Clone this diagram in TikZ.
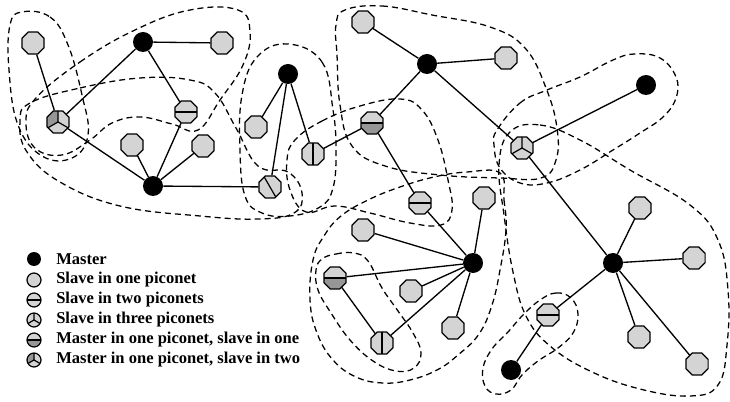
\documentclass[tikz,border=0pt]{standalone}
\usepackage{fontspec}
\setmainfont{Liberation Serif}
\usetikzlibrary{shapes.geometric}
\definecolor{lgray}{RGB}{212,212,212}
\definecolor{dgray}{RGB}{150,150,150}
\tikzset{
  master/.style={circle, fill=black, inner sep=0pt, minimum size=15pt},
  slave/.style={regular polygon, regular polygon sides=8, draw=black, line width=0.9pt, fill=lgray, inner sep=0pt, minimum size=18pt},
  splith/.style={slave, path picture={\draw[line width=0.9pt] (path picture bounding box.west) -- (path picture bounding box.east);}},
  splitv/.style={slave, path picture={\draw[line width=0.9pt] (path picture bounding box.north) -- (path picture bounding box.south);}},
  splitd/.style={slave, path picture={\draw[line width=0.9pt] (path picture bounding box.120) -- (path picture bounding box.300);}},
  mshalf/.style={slave, path picture={\fill[dgray] (path picture bounding box.west) rectangle (path picture bounding box.south east);
      \draw[line width=0.9pt] (path picture bounding box.west) -- (path picture bounding box.east);}},
  merc/.style={slave, path picture={\draw[line width=0.9pt] (path picture bounding box.center) -- (path picture bounding box.north)
      (path picture bounding box.center) -- (path picture bounding box.210) (path picture bounding box.center) -- (path picture bounding box.330);}},
  mercm/.style={slave, path picture={\fill[dgray] (path picture bounding box.center) -- (path picture bounding box.north) -- (path picture bounding box.north west) -- (path picture bounding box.210) -- cycle;
      \draw[line width=0.9pt] (path picture bounding box.center) -- (path picture bounding box.north)
      (path picture bounding box.center) -- (path picture bounding box.210) (path picture bounding box.center) -- (path picture bounding box.330);}},
  lgd/.style={circle, minimum size=10.5pt},
  link/.style={line width=1pt},
  piconet/.style={line width=0.95pt, dash pattern=on 4.5pt off 3pt},
  legtext/.style={anchor=west, inner sep=0.75pt, font=\bfseries\fontsize{12.4}{14}\selectfont}
}
\begin{document}
\begin{tikzpicture}[x=0.75pt,y=0.75pt,yscale=-1,xscale=1]
\path[use as bounding box] (0,0) rectangle (730,402);

%Piconets
\draw[piconet] plot[smooth cycle, tension=0.7] coordinates {(22,12) (50,17) (68,45) (82,95) (88,135) (72,158) (42,156) (18,125) (9,70) (10,25)};
\draw[piconet] plot[smooth cycle, tension=0.7] coordinates {(36,98) (80,62) (135,30) (190,10) (238,10) (250,32) (243,65) (220,100) (198,130) (172,124) (140,117) (112,123) (90,140) (62,155) (35,148) (26,122)};
\draw[piconet] plot[smooth cycle, tension=0.7] coordinates {(30,103) (80,88) (140,78) (190,80) (215,93) (236,128) (258,166) (288,172) (302,193) (294,213) (258,219) (200,216) (120,206) (60,182) (27,152) (20,122)};
\draw[piconet] plot[smooth cycle, tension=0.7] coordinates {(288,44) (322,62) (333,110) (336,150) (333,188) (320,207) (290,216) (262,213) (245,196) (240,150) (242,95) (257,57)};
\draw[piconet] plot[smooth cycle, tension=0.7] coordinates {(345,10) (382,6) (432,15) (490,27) (525,48) (546,88) (557,128) (556,160) (541,178) (500,178) (440,175) (385,166) (352,146) (340,105) (337,55) (336,25)};
\draw[piconet] plot[smooth cycle, tension=0.7] coordinates {(295,140) (322,121) (360,106) (400,99) (422,110) (438,140) (448,180) (452,210) (441,225) (410,223) (370,213) (335,206) (306,212) (290,190) (287,160)};
\draw[piconet] plot[smooth cycle, tension=0.7] coordinates {(497,130) (520,103) (547,90) (580,77) (613,60) (635,54) (660,58) (676,77) (676,98) (663,117) (640,133) (613,150) (580,170) (547,183) (520,183) (500,168) (494,145)};
\draw[piconet] plot[smooth cycle, tension=0.7] coordinates {(510,132) (540,125) (580,140) (630,170) (690,205) (718,240) (728,290) (727,345) (718,385) (690,396) (640,389) (590,371) (550,346) (526,316) (513,272) (504,215) (499,165)};
\draw[piconet] plot[smooth cycle, tension=0.7] coordinates {(540,300) (556,293) (571,298) (578,314) (573,333) (558,348) (538,361) (522,375) (511,390) (496,394) (485,386) (483,368) (492,349) (508,332) (523,315)};
\draw[piconet] plot[smooth cycle, tension=0.7] coordinates {(500,173) (504,200) (506,230) (500,270) (492,305) (479,334) (458,355) (437,370) (410,380) (383,383) (356,377) (333,360) (317,333) (310,300) (313,260) (324,236) (341,216) (368,200) (400,187) (434,177) (467,172)};
\draw[piconet] plot[smooth cycle, tension=0.7] coordinates {(322,259) (336,254) (354,253) (368,261) (382,288) (398,311) (413,333) (421,353) (414,368) (396,371) (373,361) (350,340) (331,313) (318,290) (316,270)};

%Masters
\node[master] (m1) at (143,42) {};
\node[master] (m2) at (153,186) {};
\node[master] (m3) at (288,74) {};
\node[master] (m4) at (427,64) {};
\node[master] (m5) at (473,263) {};
\node[master] (m6) at (646,85) {};
\node[master] (m7) at (613,263) {};
\node[master] (m8) at (511,370) {};
%Slaves
\node[slave] (s1) at (33,43) {};
\node[slave] (s2) at (222,43) {};
\node[slave] (s3) at (132,145) {};
\node[slave] (s4) at (203,146) {};
\node[slave] (s5) at (256,127) {};
\node[slave] (s6) at (363,22) {};
\node[slave] (s7) at (506,58) {};
\node[slave] (s8) at (484,198) {};
\node[slave] (s9) at (363,230) {};
\node[slave] (s10) at (411,291) {};
\node[slave] (s11) at (453,328) {};
\node[slave] (s12) at (640,208) {};
\node[slave] (s13) at (694,258) {};
\node[slave] (s14) at (639,337) {};
\node[slave] (s15) at (697,364) {};
%Bridges
\node[mercm] (t1) at (58,122) {};
\node[merc] (t2) at (522,148) {};
\node[splith] (e1) at (186,112) {};
\node[splitd] (d1) at (270,187) {};
\node[splitv] (v1) at (313,154) {};
\node[mshalf] (e2) at (372,123) {};
\node[splith] (e3) at (420,203) {};
\node[mshalf] (e4) at (335,278) {};
\node[splitv] (v2) at (382,343) {};
\node[splith] (e5) at (548,315) {};

%Links
\draw[link] (t1) -- (s1);
\draw[link] (m1) -- (t1);
\draw[link] (m1) -- (s2);
\draw[link] (m1) -- (e1);
\draw[link] (e1) -- (m2);
\draw[link] (t1) -- (m2);
\draw[link] (s3) -- (m2);
\draw[link] (s4) -- (m2);
\draw[link] (m2) -- (d1);
\draw[link] (m3) -- (s5);
\draw[link] (m3) -- (d1);
\draw[link] (m3) -- (v1);
\draw[link] (v1) -- (e2);
\draw[link] (e2) -- (m4);
\draw[link] (m4) -- (s6);
\draw[link] (m4) -- (s7);
\draw[link] (m4) -- (t2);
\draw[link] (e2) -- (e3);
\draw[link] (e3) -- (m5);
\draw[link] (m5) -- (s8);
\draw[link] (m5) -- (s9);
\draw[link] (m5) -- (e4);
\draw[link] (m5) -- (s10);
\draw[link] (m5) -- (s11);
\draw[link] (m5) -- (v2);
\draw[link] (e4) -- (v2);
\draw[link] (t2) -- (m6);
\draw[link] (t2) -- (m7);
\draw[link] (m7) -- (s12);
\draw[link] (m7) -- (s13);
\draw[link] (m7) -- (s14);
\draw[link] (m7) -- (s15);
\draw[link] (m7) -- (e5);
\draw[link] (e5) -- (m8);

%Legend
\node[master, lgd] (k1) at (34,259) {};
\node[slave, lgd] (k2) at (34,280) {};
\node[splith, lgd] (k3) at (34,300) {};
\node[merc, lgd] (k4) at (34,320) {};
\node[mshalf, lgd] (k5) at (34,340) {};
\node[mercm, lgd] (k6) at (34,360) {};
% Text Node
\node[legtext] (l1) at (55,259) {Master};
\node[legtext] (l2) at (55,280) {Slave in one piconet};
\node[legtext] (l3) at (55,300) {Slave in two piconets};
\node[legtext] (l4) at (55,320) {Slave in three piconets};
\node[legtext] (l5) at (55,340) {Master in one piconet, slave in one};
\node[legtext] (l6) at (55,360) {Master in one piconet, slave in two};

\end{tikzpicture}
\end{document}
